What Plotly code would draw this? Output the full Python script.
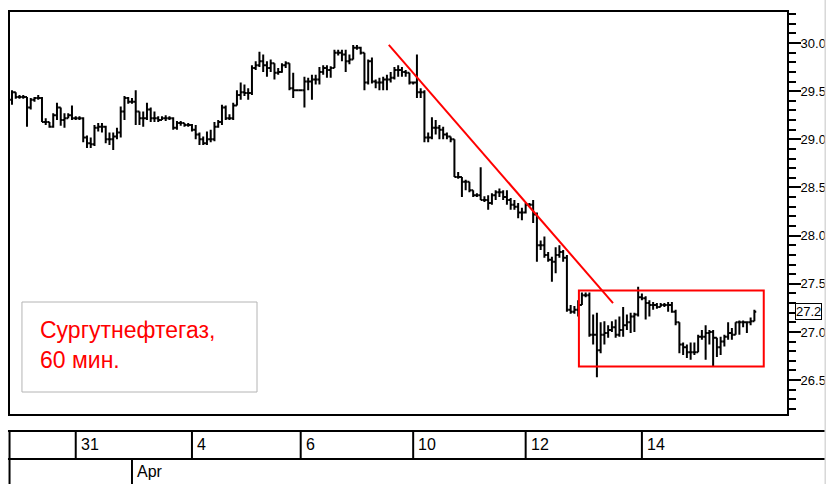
import plotly.graph_objects as go

# ---- data (hourly OHLC, Surgutneftegaz) ----
open_ = [29.41,29.49,29.44,29.44,29.44,29.33,29.41,29.43,29.43,29.18,
29.18,29.13,29.25,29.33,29.20,29.22,29.25,29.22,29.22,29.22,
29.02,28.96,28.95,29.12,29.13,29.13,29.00,29.00,29.03,29.07,
29.29,29.43,29.39,29.39,29.29,29.22,29.22,29.31,29.22,29.22,
29.20,29.22,29.22,29.22,29.12,29.17,29.17,29.15,29.15,29.10,
29.05,29.00,28.96,29.00,29.00,29.13,29.18,29.33,29.22,29.22,
29.35,29.46,29.49,29.48,29.48,29.74,29.77,29.81,29.77,29.74,
29.79,29.69,29.70,29.77,29.79,29.53,29.51,29.51,29.51,29.60,
29.60,29.62,29.62,29.70,29.74,29.72,29.74,29.90,29.90,29.88,
29.81,29.83,29.95,29.95,29.90,29.59,29.81,29.60,29.59,29.59,
29.62,29.62,29.64,29.72,29.72,29.70,29.69,29.59,29.59,29.49,
29.49,29.02,29.02,29.12,29.12,29.10,29.05,29.03,29.00,28.61,
28.61,28.56,28.56,28.47,28.42,28.42,28.37,28.37,28.34,28.42,
28.45,28.45,28.40,28.37,28.32,28.30,28.24,28.24,28.32,28.32,
28.22,27.90,27.90,27.80,27.75,27.73,27.80,27.83,27.77,27.23,
27.21,27.23,27.28,27.38,27.38,26.97,26.97,26.81,26.97,26.99,
27.02,27.05,26.97,27.02,27.07,27.10,27.16,27.18,27.36,27.35,
27.30,27.28,27.28,27.26,27.28,27.28,27.28,27.21,27.10,26.87,
26.84,26.79,26.79,26.79,26.95,26.95,26.99,27.00,26.94,26.84,
26.90,26.95,26.99,26.97,27.10,27.10,27.10,27.10,27.11]

high = [29.51,29.49,29.46,29.46,29.44,29.43,29.44,29.46,29.44,29.22,
29.18,29.27,29.38,29.33,29.27,29.27,29.35,29.24,29.24,29.23,
29.04,29.02,29.15,29.17,29.17,29.14,29.07,29.07,29.12,29.34,
29.45,29.44,29.43,29.51,29.29,29.29,29.38,29.33,29.29,29.24,
29.24,29.25,29.24,29.23,29.19,29.19,29.17,29.17,29.16,29.15,
29.07,29.03,29.08,29.10,29.18,29.20,29.36,29.35,29.26,29.38,
29.51,29.59,29.57,29.53,29.77,29.81,29.91,29.88,29.81,29.83,
29.79,29.74,29.79,29.81,29.79,29.69,29.52,29.52,29.65,29.64,
29.67,29.67,29.75,29.77,29.77,29.76,29.93,29.93,29.93,29.93,
29.88,29.98,29.98,29.96,29.90,29.83,29.85,29.62,29.64,29.65,
29.67,29.70,29.75,29.77,29.75,29.72,29.69,29.60,29.88,29.53,
29.51,29.07,29.23,29.20,29.15,29.13,29.07,29.03,29.00,28.66,
28.61,28.58,28.56,28.47,28.44,28.71,28.41,28.42,28.44,28.47,
28.49,28.47,28.47,28.39,28.37,28.34,28.29,28.34,28.34,28.37,
28.24,27.95,27.99,27.83,27.78,27.88,27.90,27.85,27.80,27.28,
27.27,27.33,27.41,27.41,27.41,27.18,27.20,27.10,27.11,27.07,
27.11,27.13,27.16,27.26,27.18,27.20,27.20,27.47,27.40,27.37,
27.33,27.31,27.30,27.30,27.30,27.31,27.31,27.23,27.10,26.89,
26.87,26.89,26.89,26.97,27.02,27.07,27.02,27.02,26.94,26.95,
26.97,27.10,27.04,27.10,27.12,27.12,27.11,27.15,27.23]

low = [29.36,29.42,29.42,29.42,29.13,29.31,29.39,29.41,29.18,29.15,
29.12,29.12,29.20,29.14,29.12,29.22,29.20,29.20,29.20,28.97,
28.91,28.91,28.93,29.08,29.07,28.96,28.94,28.89,29.00,29.02,
29.20,29.37,29.37,29.15,29.15,29.13,29.20,29.18,29.18,29.18,
29.20,29.19,29.20,29.10,29.10,29.14,29.13,29.13,29.08,29.00,
28.94,28.94,28.94,28.97,28.98,29.12,29.15,29.20,29.20,29.20,
29.35,29.41,29.45,29.41,29.46,29.72,29.75,29.70,29.65,29.70,
29.62,29.67,29.69,29.74,29.51,29.43,29.50,29.50,29.33,29.51,
29.41,29.57,29.57,29.67,29.64,29.64,29.74,29.87,29.81,29.70,
29.78,29.83,29.93,29.88,29.51,29.57,29.58,29.53,29.51,29.51,
29.51,29.59,29.62,29.65,29.65,29.65,29.57,29.57,29.43,29.43,
28.97,28.97,29.00,29.05,29.00,29.00,29.00,28.97,28.61,28.59,
28.40,28.47,28.45,28.40,28.40,28.37,28.35,28.27,28.32,28.37,
28.40,28.37,28.32,28.27,28.27,28.18,28.16,28.23,28.30,28.13,
27.73,27.85,27.77,27.73,27.52,27.61,27.77,27.73,27.21,27.19,
27.19,27.16,27.28,27.36,26.95,26.87,26.53,26.78,26.87,26.94,
27.00,26.94,26.95,26.95,27.02,26.99,27.00,27.16,27.33,27.13,
27.16,27.23,27.24,27.26,27.26,27.21,27.20,27.07,26.78,26.76,
26.73,26.71,26.76,26.79,26.92,26.71,26.87,26.64,26.74,26.76,
26.85,26.92,26.92,26.97,26.97,27.05,26.99,27.07,27.11]

close = [29.49,29.44,29.44,29.44,29.33,29.41,29.43,29.43,29.18,29.18,
29.13,29.25,29.33,29.20,29.22,29.25,29.22,29.22,29.22,29.02,
28.96,28.95,29.12,29.13,29.13,29.00,29.00,29.03,29.07,29.29,
29.43,29.39,29.39,29.29,29.22,29.22,29.31,29.22,29.22,29.20,
29.22,29.22,29.22,29.12,29.17,29.17,29.15,29.15,29.10,29.05,
29.00,28.96,29.00,29.00,29.13,29.18,29.33,29.22,29.22,29.35,
29.46,29.49,29.48,29.48,29.74,29.77,29.81,29.77,29.74,29.79,
29.69,29.70,29.77,29.79,29.53,29.51,29.51,29.51,29.60,29.60,
29.62,29.62,29.70,29.74,29.72,29.74,29.90,29.90,29.88,29.81,
29.83,29.95,29.95,29.90,29.59,29.81,29.60,29.59,29.59,29.62,
29.62,29.64,29.72,29.72,29.70,29.69,29.59,29.59,29.49,29.49,
29.02,29.02,29.12,29.12,29.10,29.05,29.03,29.00,28.61,28.61,
28.56,28.56,28.47,28.42,28.42,28.37,28.37,28.34,28.42,28.45,
28.45,28.40,28.37,28.32,28.30,28.24,28.24,28.32,28.32,28.22,
27.90,27.90,27.80,27.75,27.73,27.80,27.83,27.77,27.23,27.21,
27.23,27.28,27.38,27.38,26.97,26.97,26.81,26.97,26.99,27.02,
27.05,26.97,27.02,27.07,27.10,27.16,27.18,27.36,27.35,27.30,
27.28,27.28,27.26,27.28,27.28,27.28,27.21,27.10,26.87,26.84,
26.79,26.79,26.79,26.95,26.95,26.99,27.00,26.94,26.84,26.90,
26.95,26.99,26.97,27.10,27.10,27.10,27.10,27.11,27.21]

bar_index = list(range(len(close)))

# date scale: bar index where each labelled session starts
day_labels = ["31", "4", "6", "10", "12", "14"]
day_start_index = [17, 48, 77, 107, 137, 168]
month_labels = ["Apr"]
month_start_index = [32]

price_ticks = [26.5, 27.0, 27.5, 28.0, 28.5, 29.0, 29.5, 30.0]
price_tick_text = ["26.5", "27.0", "27.5", "28.0", "28.5", "29.0", "29.5", "30.0"]

# drawn objects (in bar index / price units)
trend_x = [100.5, 160.3]
trend_y = [29.98, 27.30]
box_x = [151.2, 200.5]
box_y = [26.64, 27.43]

caption_lines = ["Сургутнефтегаз,", "60 мин."]

FONT = "Liberation Sans, Arial, sans-serif"

fig = go.Figure(go.Ohlc(
    x=bar_index, open=open_, high=high, low=low, close=close,
    increasing=dict(line=dict(color="black", width=2)),
    decreasing=dict(line=dict(color="black", width=2)),
    tickwidth=0.5, hoverinfo="skip", showlegend=False,
))

fig.update_layout(
    width=826, height=484,
    margin=dict(l=10, r=39, t=12, b=70),
    paper_bgcolor="white", plot_bgcolor="white",
    font=dict(family=FONT, color="black", size=16),
    showlegend=False,
    xaxis=dict(range=[-0.53, 206.7], showgrid=False, zeroline=False,
               automargin=False,
               showticklabels=False, ticks="", showline=True, mirror=True,
               linecolor="black", linewidth=2,
               rangeslider=dict(visible=False)),
    yaxis=dict(range=[26.148, 30.322], side="right", showgrid=False,
               zeroline=False, automargin=False,
               tickmode="array", tickvals=price_ticks,
               ticktext=price_tick_text, ticks="outside", ticklen=12,
               tickwidth=2, tickcolor="black", ticklabelstandoff=-3,
               minor=dict(tickmode="linear", tick0=26.0, dtick=0.1,
                          ticks="outside", ticklen=7, tickwidth=2,
                          tickcolor="black", showgrid=False),
               showline=True, mirror=True, linecolor="black", linewidth=2,
               tickfont=dict(family=FONT, size=13, color="black")),
)

shapes = []
ann = []

# trend line and consolidation box
shapes.append(dict(type="line", xref="x", yref="y", x0=trend_x[0], y0=trend_y[0],
                   x1=trend_x[1], y1=trend_y[1], line=dict(color="red", width=2)))
shapes.append(dict(type="rect", xref="x", yref="y", x0=box_x[0], x1=box_x[1],
                   y0=box_y[0], y1=box_y[1], line=dict(color="red", width=2)))

# caption box
shapes.append(dict(type="rect", xref="paper", yref="paper", x0=0.0154, x1=0.3179,
                   y0=0.0547, y1=0.2786, line=dict(color="#b4b4b4", width=1)))
ann.append(dict(xref="paper", yref="paper", x=0.036, y=0.209, xanchor="left",
                yanchor="middle", text=caption_lines[0], showarrow=False,
                font=dict(family=FONT, size=23, color="red")))
ann.append(dict(xref="paper", yref="paper", x=0.036, y=0.134, xanchor="left",
                yanchor="middle", text=caption_lines[1], showarrow=False,
                font=dict(family=FONT, size=23, color="red")))

# last price box
ann.append(dict(xref="paper", yref="y", x=1.0103, y=close[-1], xanchor="left",
                yanchor="middle", text=f"{close[-1]:.1f}", showarrow=False,
                bordercolor="black", borderwidth=1, borderpad=0, bgcolor="white",
                font=dict(family=FONT, size=13, color="black")))

# date table
row1_top, row1_bot, row2_bot = -0.0423, -0.1119, -0.2
for yy in (row1_top, row1_bot):
    shapes.append(dict(type="line", xref="paper", yref="paper", x0=-0.0026, x1=1.0502,
                       y0=yy, y1=yy, line=dict(color="black", width=2)))
shapes.append(dict(type="line", xref="paper", yref="paper", x0=-0.0006, x1=-0.0006,
                   y0=row1_top, y1=row2_bot, line=dict(color="black", width=2)))
for idx, lab in zip(day_start_index, day_labels):
    shapes.append(dict(type="line", xref="x", yref="paper", x0=idx, x1=idx,
                       y0=row1_top, y1=row1_bot, line=dict(color="black", width=2)))
    ann.append(dict(xref="x", yref="paper", x=idx, y=-0.077, xanchor="left",
                    yanchor="middle", xshift=3, text=lab, showarrow=False,
                    font=dict(family=FONT, size=16, color="black")))
for idx, lab in zip(month_start_index, month_labels):
    shapes.append(dict(type="line", xref="x", yref="paper", x0=idx, x1=idx,
                       y0=row1_bot, y1=row2_bot, line=dict(color="black", width=2)))
    ann.append(dict(xref="x", yref="paper", x=idx, y=-0.143, xanchor="left",
                    yanchor="middle", xshift=3, text=lab, showarrow=False,
                    font=dict(family=FONT, size=16, color="black")))

# window edge on the right
shapes.append(dict(type="line", xref="paper", yref="paper", x0=1.0495, x1=1.0495,
                   y0=-0.2, y1=1.03, line=dict(color="#d8d8d8", width=2)))

fig.update_layout(shapes=shapes, annotations=ann)
fig.write_html(
    "out.html",
    config={"displayModeBar": False},
    post_script="document.body.style.margin='0';document.body.style.padding='0';"
                "document.body.style.overflow='hidden';"
                "var gd=document.getElementById('{plot_id}');gd.style.overflow='hidden';",
)
